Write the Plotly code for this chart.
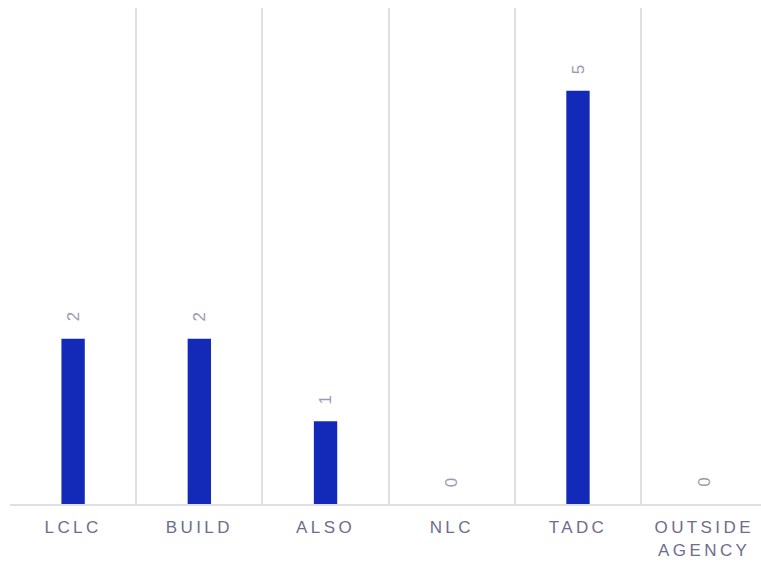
import plotly.graph_objects as go

categories = ["LCLC", "BUILD", "ALSO", "NLC", "TADC", "OUTSIDE<br>AGENCY"]
values = [2, 2, 1, 0, 5, 0]
value_labels = [str(v) for v in values]

BAR_COLOR = "#1329b8"
GRID_COLOR = "#dfdfe4"
TICK_COLOR = "#6e6d8c"
LABEL_COLOR = "#9b9ab2"
FONT = "Liberation Sans, Arial, sans-serif"

fig = go.Figure()
fig.add_trace(go.Bar(
    x=categories,
    y=values,
    marker=dict(color=BAR_COLOR, line=dict(width=0)),
    width=0.185,
    hoverinfo="skip",
))

for c, v, t in zip(categories, values, value_labels):
    fig.add_annotation(
        x=c, y=v, text=t, textangle=-90,
        showarrow=False, yanchor="bottom", xanchor="center",
        yshift=15,
        font=dict(family=FONT, size=17, color=LABEL_COLOR),
    )

fig.update_layout(
    width=761, height=562,
    margin=dict(l=10, r=0, t=8, b=58),
    paper_bgcolor="white",
    plot_bgcolor="white",
    showlegend=False,
    font=dict(family=FONT, size=17, color=TICK_COLOR),
    xaxis=dict(
        type="category",
        range=[-0.5, 5.45],
        tickson="boundaries",
        showgrid=True,
        gridcolor=GRID_COLOR,
        gridwidth=2,
        showline=True,
        linecolor=GRID_COLOR,
        linewidth=2,
        ticks="",
        ticklabelstandoff=7,
        tickfont=dict(family=FONT, size=17, color=TICK_COLOR),
        fixedrange=True,
    ),
    yaxis=dict(
        range=[0, 6],
        showgrid=False,
        zeroline=False,
        showticklabels=False,
        showline=False,
        fixedrange=True,
    ),
)

post = """
var s = document.createElement('style');
s.innerHTML = 'html, body { margin: 0; padding: 0; overflow: hidden; } .xtick text { letter-spacing: 0.2em; }';
document.head.appendChild(s);
"""
fig.write_html("out.html", post_script=post, config={"displayModeBar": False})
